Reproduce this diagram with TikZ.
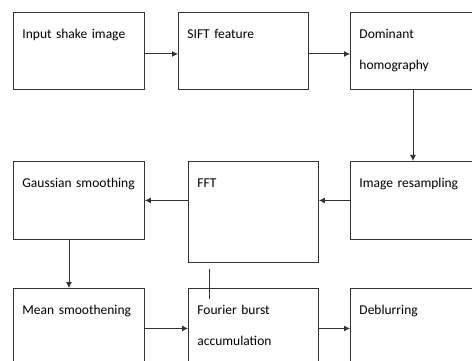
\documentclass[tikz,border=0pt]{standalone}
\usepackage{fontspec}
\setmainfont{Carlito}
\usetikzlibrary{arrows.meta}

\begin{document}
\begin{tikzpicture}[x=1pt, y=1pt,
    blk/.style={draw=black!80, line width=0.9pt, anchor=north west, align=left,
      text width=113pt, inner xsep=9pt, inner ysep=0pt,
      text height=26pt, text depth=51pt,
      font=\fontsize{13.5}{31}\selectfont},
    flow/.style={draw=black!80, line width=0.9pt, -{Latex[length=6pt,width=6pt]}}]
    \useasboundingbox (0,0) rectangle (472,-361);
    % first row
    \node[blk] (inp) at (13,-12) {Input shake image};
    \node[blk, text width=112pt] (sift) at (178,-12) {SIFT feature};
    \node[blk, text width=107pt] (dom) at (350,-12) {Dominant\\homography};
    % second row
    \node[blk, text depth=52pt] (gau) at (13,-161) {Gaussian smoothing};
    \node[blk, text width=112pt, text depth=75pt] (fft) at (188,-161) {FFT};
    \node[blk, text width=107pt, text depth=52pt] (res) at (350,-161) {Image resampling};
    % third row
    \node[blk, text depth=54pt] (mean) at (13,-288) {Mean smoothening};
    \node[blk, text width=112pt, text depth=54pt] (fou) at (188,-288) {Fourier burst\\accumulation};
    \node[blk, text width=107pt, text depth=54pt] (deb) at (350,-288) {Deblurring};
    % connectors
    \draw[flow] ([yshift=-3]inp.east) -- ([yshift=-3]inp.east -| sift.west);
    \draw[flow] ([yshift=-3]sift.east) -- ([yshift=-3]sift.east -| dom.west);
    \draw[flow] (dom.south) -- (res.north);
    \draw[flow] (res.west) -- (res.west -| fft.east);
    \draw[flow] (gau.east -| fft.west) -- (gau.east);
    \draw[flow] ([xshift=-10]gau.south) -- ([xshift=-10]gau.south |- mean.north);
    \draw[flow] (mean.east) -- (mean.east -| fou.west);
    \draw[flow] (fou.east) -- (fou.east -| deb.west);
    \draw[draw=black!80, line width=0.9pt] ([shift={(-44,-6)}]fft.south) -- ++(0,-30);
\end{tikzpicture}
\end{document}
